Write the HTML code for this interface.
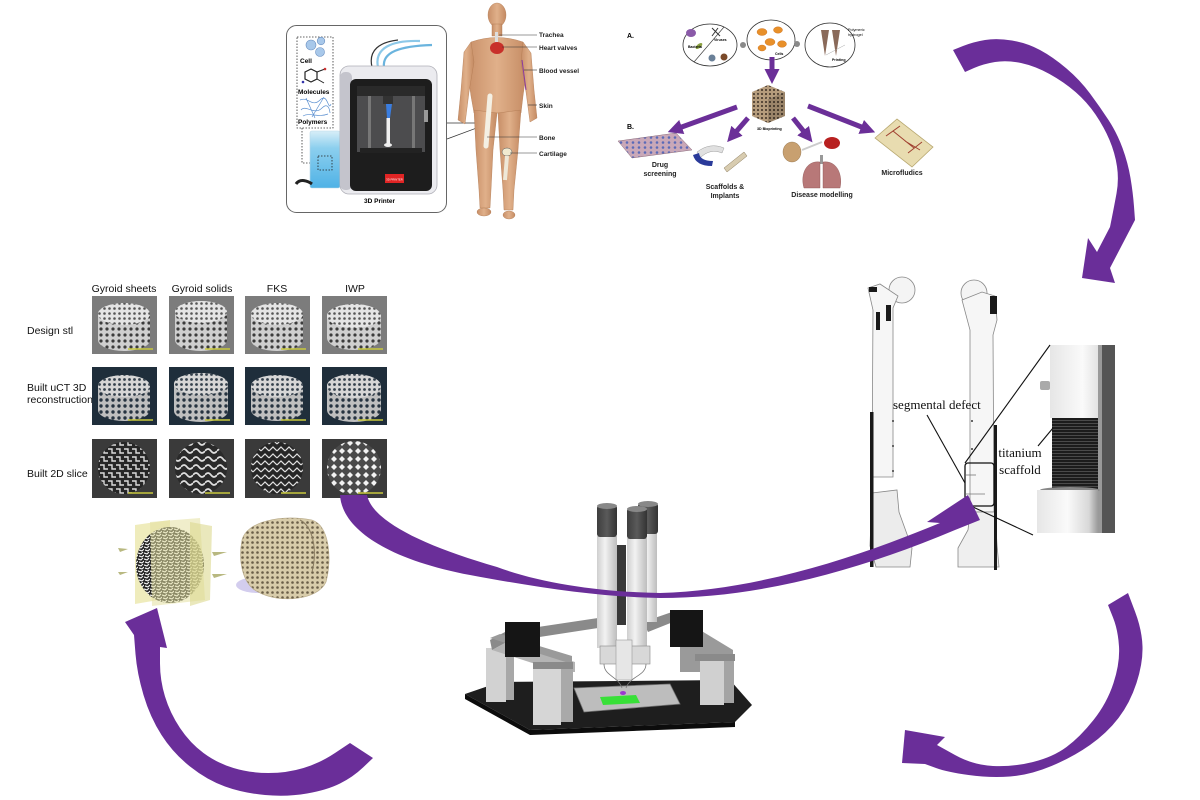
<!DOCTYPE html>
<html><head><meta charset="utf-8"><style>
html,body{margin:0;padding:0;background:#fff;}
svg{display:block;}
.t{font-family:"Liberation Sans",Arial,sans-serif;}
.s{font-family:"Liberation Serif","Times New Roman",serif;}
</style></head><body>
<svg width="1200" height="800" viewBox="0 0 1200 800" xmlns="http://www.w3.org/2000/svg">
<defs>
<pattern id="l1" width="6" height="6" patternUnits="userSpaceOnUse"><rect width="6" height="6" fill="#cfcfcf"/><circle cx="3" cy="3" r="1.6" fill="#3c3c3c"/></pattern>
<pattern id="l1t" width="5" height="5" patternUnits="userSpaceOnUse"><rect width="5" height="5" fill="#e4e4e4"/><circle cx="2.5" cy="2.5" r="1.3" fill="#555"/></pattern>
<pattern id="l2" width="6" height="6" patternUnits="userSpaceOnUse"><rect width="6" height="6" fill="#bfbfbf"/><circle cx="3" cy="3" r="1.7" fill="#263340"/></pattern>
<pattern id="l2t" width="5" height="5" patternUnits="userSpaceOnUse"><rect width="5" height="5" fill="#d6d6d6"/><circle cx="2.5" cy="2.5" r="1.4" fill="#34404c"/></pattern>
<pattern id="herr" width="8" height="8" patternUnits="userSpaceOnUse"><rect width="8" height="8" fill="#262626"/><path d="M0,2 L4,2 L4,6 L8,6" stroke="#dcdcdc" stroke-width="1.4" fill="none"/></pattern>
<pattern id="wave" width="12" height="8" patternUnits="userSpaceOnUse"><rect width="12" height="8" fill="#2a2a2a"/><path d="M0,4 Q3,0 6,4 T12,4" stroke="#dedede" stroke-width="1.8" fill="none"/></pattern>
<pattern id="zig" width="8" height="7" patternUnits="userSpaceOnUse"><rect width="8" height="7" fill="#262626"/><path d="M0,5 L4,1 L8,5" stroke="#e0e0e0" stroke-width="1.2" fill="none"/></pattern>
<pattern id="diam" width="8" height="8" patternUnits="userSpaceOnUse"><rect width="8" height="8" fill="#4a4a4a"/><polygon points="4,1 7,4 4,7 1,4" fill="#f2f2f2"/></pattern>
<pattern id="cube" width="4" height="4" patternUnits="userSpaceOnUse"><rect width="4" height="4" fill="#b59c7c"/><rect x="1" y="1" width="2" height="2" fill="#5a4a3a"/></pattern>
<pattern id="por" width="5" height="5" patternUnits="userSpaceOnUse"><rect width="5" height="5" fill="#d8ccaa"/><circle cx="2.5" cy="2.5" r="1.3" fill="#6a5e48"/></pattern>
<pattern id="noise" width="6" height="6" patternUnits="userSpaceOnUse"><rect width="6" height="6" fill="#222"/><path d="M0,1 L3,2 L5,0 M1,4 L4,5 L6,3" stroke="#f0f0f0" stroke-width="1.2" fill="none"/></pattern>
<pattern id="scf" width="3" height="3" patternUnits="userSpaceOnUse"><rect width="3" height="3" fill="#1c1c1c"/><rect width="3" height="1" fill="#4a4a4a"/></pattern>
<pattern id="plate" width="6" height="5" patternUnits="userSpaceOnUse"><rect width="6" height="5" fill="#c9a8b8"/><circle cx="3" cy="2.5" r="1.3" fill="#5a6ab8"/></pattern>
<marker id="ah" viewBox="0 0 10 10" refX="2" refY="5" markerWidth="3" markerHeight="3" orient="auto" markerUnits="strokeWidth"><path d="M0,0 L10,5 L0,10 z" fill="#6b2f98"/></marker>
<linearGradient id="tube" x1="0" x2="1"><stop offset="0" stop-color="#cfcfcf"/><stop offset="0.4" stop-color="#f2f2f2"/><stop offset="1" stop-color="#bdbdbd"/></linearGradient>
<linearGradient id="cap" x1="0" x2="1"><stop offset="0" stop-color="#3e3e3e"/><stop offset="0.5" stop-color="#5a5a5a"/><stop offset="1" stop-color="#333"/></linearGradient>
<linearGradient id="beak" x1="0" y1="0" x2="0" y2="1"><stop offset="0" stop-color="#d8eef8"/><stop offset="0.3" stop-color="#8ccfee"/><stop offset="1" stop-color="#4fb2e6"/></linearGradient>
<linearGradient id="skin" x1="0" x2="1"><stop offset="0" stop-color="#c88f68"/><stop offset="0.5" stop-color="#e0b08a"/><stop offset="1" stop-color="#c48a62"/></linearGradient>
<linearGradient id="zp" x1="0" x2="1"><stop offset="0" stop-color="#e6e6e6"/><stop offset="0.5" stop-color="#fafafa"/><stop offset="0.85" stop-color="#d8d8d8"/><stop offset="1" stop-color="#9a9a9a"/></linearGradient>
</defs>

<!-- ============ TOP LEFT: printer panel + human ============ -->
<rect x="286.5" y="25.5" width="160" height="187" rx="10" fill="#fff" stroke="#666" stroke-width="1"/>
<rect x="297" y="37" width="36" height="91" fill="none" stroke="#333" stroke-width="0.8" stroke-dasharray="1.5,1.5"/>
<circle cx="311" cy="45" r="5" fill="#a8c8ea" stroke="#6a8fc0" stroke-width="0.6"/>
<circle cx="321" cy="41" r="3.8" fill="#a8c8ea" stroke="#6a8fc0" stroke-width="0.6"/>
<circle cx="320" cy="52" r="4.5" fill="#a8c8ea" stroke="#6a8fc0" stroke-width="0.6"/>
<text x="300" y="63" class="t" font-size="6.5" font-weight="bold">Cell</text>
<polygon points="305,72 311,69 317,72 317,79 311,82 305,79" fill="none" stroke="#222" stroke-width="1.2"/>
<line x1="317" y1="72" x2="325" y2="69" stroke="#222" stroke-width="1"/><circle cx="325" cy="69" r="1.3" fill="#c33"/>
<line x1="317" y1="79" x2="324" y2="83" stroke="#222" stroke-width="1"/><circle cx="303" cy="82" r="1.3" fill="#33a"/>
<text x="298" y="94" class="t" font-size="6.5" font-weight="bold">Molecules</text>
<path d="M300,100 C308,96 312,108 320,100 S328,112 331,104 M301,110 C306,104 314,116 322,108 S330,116 330,112 M303,116 C310,112 318,118 328,114 M306,98 L315,118 M324,97 L312,117" stroke="#5a8fd0" stroke-width="0.7" fill="none"/>
<text x="298" y="124" class="t" font-size="6.5" font-weight="bold">Polymers</text>
<polyline points="302,128 302,163 318,163" fill="none" stroke="#333" stroke-width="0.8" stroke-dasharray="1.5,1.5"/>
<rect x="310" y="131" width="30" height="57" rx="2" fill="url(#beak)" stroke="#b8d8e8" stroke-width="0.6"/>
<rect x="318" y="156" width="14" height="14" fill="none" stroke="#222" stroke-width="0.8" stroke-dasharray="1.5,1.5"/>
<path d="M296,184 C300,178 308,181 312,184" stroke="#222" stroke-width="3" fill="none"/>
<!-- printer -->
<path d="M378,67 C374,48 392,40 420,41" stroke="#8cc8e8" stroke-width="2.2" fill="none"/>
<path d="M384,67 C382,52 400,46 432,45" stroke="#6ab4de" stroke-width="2.2" fill="none"/>
<path d="M372,67 C368,50 380,42 398,40" stroke="#333" stroke-width="1.2" fill="none"/>
<rect x="340" y="66" width="97" height="128" rx="9" fill="#ebebef" stroke="#b0b0b8" stroke-width="0.8"/>
<rect x="340" y="72" width="12" height="118" rx="5" fill="#c4c4cc"/>
<rect x="350" y="79" width="82" height="112" rx="6" fill="#1d1d1d"/>
<rect x="357" y="86" width="68" height="66" fill="#4c4c4e"/>
<rect x="357" y="86" width="68" height="10" fill="#2a2a2a"/>
<rect x="368" y="96" width="3" height="52" fill="#777"/>
<rect x="412" y="96" width="3" height="52" fill="#777"/>
<rect x="383" y="96" width="10" height="8" fill="#333"/>
<path d="M386,104 L392,104 L390,118 L387,118 Z" fill="#3a7de0"/>
<rect x="386.5" y="118" width="3.5" height="26" fill="#f0f0f0"/>
<ellipse cx="388" cy="145" rx="4" ry="2" fill="#eee"/>
<rect x="360" y="148" width="62" height="5" fill="#222"/>
<rect x="424" y="110" width="4" height="12" fill="#999"/>
<rect x="385" y="174" width="19" height="9" fill="#e02424"/>
<text x="394.5" y="180.5" class="t" font-size="2.8" fill="#fff" text-anchor="middle">3D PRINTER</text>
<text x="364" y="203" class="t" font-size="6.5" font-weight="bold">3D Printer</text>
<line x1="447" y1="123" x2="482" y2="123" stroke="#333" stroke-width="0.7"/>
<line x1="447" y1="139" x2="482" y2="126" stroke="#333" stroke-width="0.7"/>
<!-- human -->
<g fill="url(#skin)" stroke="#b07850" stroke-width="0.4">
<ellipse cx="497" cy="15" rx="9" ry="12"/>
<rect x="492" y="24" width="10" height="12"/>
<path d="M471,42 Q497,33 523,42 L528,60 L523,96 L521,113 L474,113 L471,96 L466,60 Z"/>
<path d="M471,42 L464,52 L461,90 L458,120 L465,124 L469,92 L474,62 Z"/>
<path d="M523,42 L531,53 L534,90 L537,118 L530,122 L526,92 L521,62 Z"/>
<path d="M474,110 L497,113 L493,150 L491,190 L490,208 L480,208 L479,190 L476,150 Z"/>
<path d="M498,113 L521,110 L518,150 L514,190 L513,210 L504,210 L503,190 L500,150 Z"/>
<ellipse cx="484" cy="212" rx="7" ry="4"/>
<ellipse cx="509" cy="215" rx="6" ry="4"/>
</g>
<path d="M490,96 L486,146" stroke="#f4f0e4" stroke-width="5" stroke-linecap="round"/>
<ellipse cx="507" cy="152" rx="5" ry="4" fill="#f1ead0" stroke="#555" stroke-width="0.5"/>
<path d="M507,156 L505,180" stroke="#eee8d8" stroke-width="4"/>
<rect x="495" y="32" width="3" height="10" fill="#ddd"/>
<ellipse cx="497" cy="48" rx="7" ry="6" fill="#c8302a"/>
<path d="M522,60 L526,90" stroke="#8a3aa0" stroke-width="1"/>
<g stroke="#333" stroke-width="0.6">
<line x1="499" y1="35" x2="537" y2="35"/><line x1="502" y1="47" x2="537" y2="47"/>
<line x1="524" y1="70" x2="537" y2="70"/><line x1="528" y1="105" x2="537" y2="105"/>
<line x1="487" y1="137" x2="537" y2="137"/><line x1="510" y1="153" x2="537" y2="153"/>
</g>
<g class="t" font-size="6.5" font-weight="bold" fill="#222">
<text x="539" y="37">Trachea</text><text x="539" y="50">Heart valves</text>
<text x="539" y="73">Blood vessel</text><text x="539" y="108">Skin</text>
<text x="539" y="140">Bone</text><text x="539" y="156">Cartilage</text>
</g>

<!-- ============ TOP MIDDLE: bioprinting panel ============ -->
<text x="627" y="38" class="t" font-size="7" font-weight="bold">A.</text>
<text x="627" y="129" class="t" font-size="7" font-weight="bold">B.</text>
<ellipse cx="710" cy="45" rx="27" ry="21" fill="#fff" stroke="#333" stroke-width="0.8"/>
<line x1="694" y1="62" x2="724" y2="27" stroke="#333" stroke-width="0.6"/>
<ellipse cx="691" cy="33" rx="5" ry="4" fill="#8a5aa8"/>
<ellipse cx="699" cy="46" rx="4" ry="2" fill="#8aa040" transform="rotate(-40 699 46)"/>
<circle cx="712" cy="58" r="3.5" fill="#6a8098"/><circle cx="724" cy="57" r="3.5" fill="#7a4a2a"/>
<path d="M712,28 L720,36 M718,28 L712,36" stroke="#333" stroke-width="1"/>
<text x="688" y="48" class="t" font-size="3.5" font-weight="bold">Bacteria</text>
<text x="714" y="41" class="t" font-size="3.5" font-weight="bold">Viruses</text>
<circle cx="743" cy="45" r="3" fill="#8a8a8a"/>
<ellipse cx="771" cy="40" rx="24" ry="20" fill="#fff" stroke="#333" stroke-width="0.8"/>
<g fill="#e8902a" stroke="#c86a18" stroke-width="0.4">
<ellipse cx="762" cy="32" rx="5" ry="3.5"/><ellipse cx="778" cy="30" rx="4.5" ry="3.2"/>
<ellipse cx="770" cy="42" rx="5" ry="3.5"/><ellipse cx="782" cy="44" rx="4.5" ry="3.3"/><ellipse cx="762" cy="48" rx="4" ry="3"/>
</g>
<text x="775" y="55" class="t" font-size="3.5" font-weight="bold">Cells</text>
<circle cx="797" cy="44" r="3" fill="#8a8a8a"/>
<ellipse cx="830" cy="45" rx="25" ry="22" fill="#fff" stroke="#333" stroke-width="0.8"/>
<polygon points="821,30 829,30 825,56" fill="#8a6a5a"/>
<polygon points="832,30 840,30 836,56" fill="#8a6a5a"/>
<line x1="826" y1="55" x2="845" y2="45" stroke="#aaa" stroke-width="0.5"/>
<text x="848" y="31" class="t" font-size="3.8">Polymeric</text>
<text x="848" y="36" class="t" font-size="3.8">hydrogel</text>
<text x="832" y="61" class="t" font-size="3.6" font-weight="bold">Printing</text>
<line x1="772" y1="57" x2="772" y2="72" stroke="#6b2f98" stroke-width="5" marker-end="url(#ah)"/>
<polygon points="752,92 768,85 785,92 768,99" fill="url(#cube)"/>
<polygon points="752,92 768,99 768,123 752,116" fill="url(#cube)"/>
<polygon points="768,99 785,92 785,116 768,123" fill="url(#cube)"/>
<polygon points="768,99 785,92 785,116 768,123" fill="#000" opacity="0.15"/>
<text x="757" y="130" class="t" font-size="3.6" font-weight="bold">3D Bioprinting</text>
<g stroke="#6b2f98" stroke-width="5" marker-end="url(#ah)">
<line x1="737" y1="107" x2="679" y2="128"/>
<line x1="748" y1="118" x2="735" y2="133"/>
<line x1="793" y1="118" x2="805" y2="133"/>
<line x1="808" y1="106" x2="864" y2="128"/>
</g>
<polygon points="618,141 676,133 692,150 632,158" fill="url(#plate)" stroke="#8a6a7a" stroke-width="0.5"/>
<g class="t" font-size="7" font-weight="bold" fill="#222" text-anchor="middle">
<text x="660" y="167">Drug</text><text x="660" y="176">screening</text>
<text x="725" y="189">Scaffolds &amp;</text><text x="725" y="198">Implants</text>
<text x="822" y="197">Disease modelling</text>
<text x="902" y="175">Microfludics</text>
</g>
<path d="M697,152 Q710,142 724,148 L722,153 Q710,148 700,158 Z" fill="#e0e0e0" stroke="#888" stroke-width="0.4"/>
<path d="M693,155 Q696,166 712,166 L713,161 Q700,161 699,153 Z" fill="#2a3a9a"/>
<polygon points="724,168 744,152 747,156 727,172" fill="#d8ccb0" stroke="#8a7a5a" stroke-width="0.5"/>
<ellipse cx="792" cy="152" rx="9" ry="10" fill="#c8a070" stroke="#8a6a40" stroke-width="0.4"/>
<path d="M802,150 L822,142" stroke="#ccc" stroke-width="2"/>
<ellipse cx="832" cy="143" rx="8" ry="6" fill="#b82020"/>
<rect x="820" y="155" width="3" height="9" fill="#999"/>
<path d="M820,162 C806,160 800,175 804,188 L820,188 Z" fill="#b87878" stroke="#8a5050" stroke-width="0.4"/>
<path d="M823,162 C837,160 843,175 840,188 L823,188 Z" fill="#b87878" stroke="#8a5050" stroke-width="0.4"/>
<polygon points="875,138 897,119 933,147 912,167" fill="#e8dcb0" stroke="#b8a870" stroke-width="0.8"/>
<path d="M886,136 L900,126 M893,131 L914,148 M905,141 L920,150 M908,153 L922,142" stroke="#a04030" stroke-width="1"/>

<!-- ============ GRID of scaffolds ============ -->
<g class="t" font-size="10.5" fill="#111" text-anchor="middle">
<text x="124" y="292">Gyroid sheets</text><text x="202" y="292">Gyroid solids</text>
<text x="277" y="292">FKS</text><text x="355" y="292">IWP</text>
</g>
<g class="t" font-size="10.5" fill="#111">
<text x="27" y="334">Design stl</text>
<text x="27" y="391">Built uCT 3D</text><text x="27" y="403">reconstruction</text>
<text x="27" y="477">Built 2D slice</text>
</g>
<g transform="translate(92,296)"><rect width="65" height="58" fill="#7c7c7c"/><path d="M6,18 A26,11 0 0 1 58,18 L58,44 A26,11 0 0 1 6,44 Z" fill="url(#l1)"/><ellipse cx="32" cy="18" rx="26" ry="11" fill="url(#l1t)"/><line x1="36" y1="53" x2="61" y2="53" stroke="#c8c83c" stroke-width="1.5"/></g>
<g transform="translate(169,296)"><rect width="65" height="58" fill="#7c7c7c"/><path d="M6,16 A26,11 0 0 1 58,16 L58,44 A26,11 0 0 1 6,44 Z" fill="url(#l1)"/><ellipse cx="32" cy="16" rx="26" ry="11" fill="url(#l1t)"/><line x1="36" y1="53" x2="61" y2="53" stroke="#c8c83c" stroke-width="1.5"/></g>
<g transform="translate(245,296)"><rect width="65" height="58" fill="#7c7c7c"/><path d="M6,18 A26,11 0 0 1 58,18 L58,44 A26,11 0 0 1 6,44 Z" fill="url(#l1)"/><ellipse cx="32" cy="18" rx="26" ry="11" fill="url(#l1t)"/><line x1="36" y1="53" x2="61" y2="53" stroke="#c8c83c" stroke-width="1.5"/></g>
<g transform="translate(322,296)"><rect width="65" height="58" fill="#7c7c7c"/><path d="M5,20 A27,12 0 0 1 59,20 L59,42 A27,12 0 0 1 5,42 Z" fill="url(#l1)"/><ellipse cx="32" cy="20" rx="27" ry="12" fill="url(#l1t)"/><line x1="36" y1="53" x2="61" y2="53" stroke="#c8c83c" stroke-width="1.5"/></g>
<g transform="translate(92,367)"><rect width="65" height="58" fill="#1f2e3b"/><path d="M6,19 A26,11 0 0 1 58,19 L58,43 A26,11 0 0 1 6,43 Z" fill="url(#l2)"/><ellipse cx="32" cy="19" rx="26" ry="11" fill="url(#l2t)"/><line x1="36" y1="53" x2="61" y2="53" stroke="#c8c83c" stroke-width="1.5"/></g>
<g transform="translate(169,367)"><rect width="65" height="58" fill="#1f2e3b"/><path d="M5,17 A27,11 0 0 1 59,17 L59,44 A27,11 0 0 1 5,44 Z" fill="url(#l2)"/><ellipse cx="32" cy="17" rx="27" ry="11" fill="url(#l2t)"/><line x1="36" y1="53" x2="61" y2="53" stroke="#c8c83c" stroke-width="1.5"/></g>
<g transform="translate(245,367)"><rect width="65" height="58" fill="#1f2e3b"/><path d="M6,19 A26,11 0 0 1 58,19 L58,43 A26,11 0 0 1 6,43 Z" fill="url(#l2)"/><ellipse cx="32" cy="19" rx="26" ry="11" fill="url(#l2t)"/><line x1="36" y1="53" x2="61" y2="53" stroke="#c8c83c" stroke-width="1.5"/></g>
<g transform="translate(322,367)"><rect width="65" height="58" fill="#1f2e3b"/><path d="M5,19 A27,12 0 0 1 59,19 L59,43 A27,12 0 0 1 5,43 Z" fill="url(#l2)"/><ellipse cx="32" cy="19" rx="27" ry="12" fill="url(#l2t)"/><line x1="36" y1="53" x2="61" y2="53" stroke="#c8c83c" stroke-width="1.5"/></g>
<g transform="translate(92,439)"><rect width="65" height="59" fill="#3a3a3a"/><circle cx="32" cy="29" r="26" fill="url(#herr)"/><line x1="36" y1="54" x2="61" y2="54" stroke="#c8c83c" stroke-width="1.5"/></g>
<g transform="translate(169,439)"><rect width="65" height="59" fill="#3a3a3a"/><circle cx="32" cy="29" r="26" fill="url(#wave)"/><line x1="36" y1="54" x2="61" y2="54" stroke="#c8c83c" stroke-width="1.5"/></g>
<g transform="translate(245,439)"><rect width="65" height="59" fill="#3a3a3a"/><circle cx="32" cy="29" r="26" fill="url(#zig)"/><line x1="36" y1="54" x2="61" y2="54" stroke="#c8c83c" stroke-width="1.5"/></g>
<g transform="translate(322,439)"><rect width="65" height="59" fill="#3a3a3a"/><circle cx="32" cy="29" r="27" fill="url(#diam)"/><line x1="36" y1="54" x2="61" y2="54" stroke="#c8c83c" stroke-width="1.5"/></g>

<!-- scaffold pictures below grid -->
<polygon points="135,525 170,520 170,598 135,604" fill="#e8e4a0" opacity="0.7"/>
<ellipse cx="170" cy="565" rx="34" ry="38" fill="url(#noise)"/>
<polygon points="150,522 200,518 205,600 152,606" fill="#e4e0a0" opacity="0.55"/>
<polygon points="190,522 212,526 210,600 190,606" fill="#dcd890" opacity="0.6"/>
<polygon points="118,548 128,549 120,552" fill="#b8b880"/><polygon points="212,552 227,552 214,556" fill="#b8b880"/>
<polygon points="118,572 128,572 120,575" fill="#b8b880"/><polygon points="212,574 227,574 214,578" fill="#b8b880"/>
<ellipse cx="258" cy="585" rx="22" ry="8" fill="#c8c0ea" opacity="0.8"/>
<path d="M242,540 C246,522 280,514 312,520 C330,526 332,560 326,582 C318,600 280,604 258,592 C242,584 238,560 242,540 Z" fill="url(#por)" stroke="#b8aa88" stroke-width="0.6"/>
<path d="M300,520 C312,526 318,548 312,572" stroke="#8a7c60" stroke-width="1" fill="none"/>

<!-- ============ RIGHT: femurs ============ -->
<g stroke="#888" stroke-width="0.8">
<circle cx="902" cy="290" r="13" fill="#f4f4f4"/>
<path d="M868,288 L880,284 L898,296 L893,308 L893,477 L872,477 L873,310 Z" fill="#f6f6f6"/>
<path d="M872,493 L897,490 L899,512 L912,548 L910,567 L876,567 L870,546 Z" fill="#ececec"/>
<circle cx="974" cy="293" r="13" fill="#f4f4f4"/>
<path d="M962,300 L982,292 L995,296 L997,320 L993,335 L994,512 L970,512 L970,330 Z" fill="#f6f6f6"/>
<path d="M970,512 L995,512 L997,545 L999,567 L958,567 L958,548 L968,530 Z" fill="#efefef"/>
</g>
<g fill="#1a1a1a">
<rect x="870" y="412" width="3.5" height="155"/>
<rect x="869" y="287" width="8" height="5"/><rect x="876" y="312" width="4" height="18"/><rect x="886" y="305" width="5" height="16"/>
<rect x="994" y="425" width="3" height="145"/>
<rect x="990" y="296" width="7" height="18"/>
</g>
<g fill="#666"><rect x="892" y="420" width="2" height="2"/><rect x="892" y="445" width="2" height="2"/><rect x="892" y="470" width="2" height="2"/><rect x="971" y="420" width="2" height="2"/><rect x="971" y="448" width="2" height="2"/></g>
<rect x="965" y="463" width="29" height="43" rx="3" fill="none" stroke="#111" stroke-width="1.3"/>
<line x1="966" y1="475" x2="976" y2="475" stroke="#777" stroke-width="0.8"/><line x1="966" y1="494" x2="985" y2="494" stroke="#777" stroke-width="0.8"/>
<rect x="1050" y="345" width="65" height="73" fill="url(#zp)"/>
<rect x="1040" y="381" width="10" height="9" rx="2" fill="#aaa"/>
<rect x="1052" y="418" width="46" height="72" fill="url(#scf)"/>
<rect x="1098" y="418" width="17" height="72" fill="#ddd"/>
<rect x="1102" y="345" width="13" height="188" fill="#555"/>
<rect x="1098" y="345" width="4" height="188" fill="#9a9a9a"/>
<ellipse cx="1070" cy="490" rx="30" ry="3" fill="#888"/>
<rect x="1037" y="490" width="61" height="43" fill="url(#zp)"/>
<g stroke="#111" stroke-width="1.1">
<line x1="965" y1="463" x2="1050" y2="345"/>
<line x1="973" y1="507" x2="1033" y2="535"/>
<line x1="927" y1="415" x2="965" y2="483"/>
<line x1="1038" y1="446" x2="1053" y2="428"/>
</g>
<text x="893" y="409" class="s" font-size="13" fill="#111">segmental defect</text>
<text x="1020" y="457" class="s" font-size="13" fill="#111" text-anchor="middle">titanium</text>
<text x="1020" y="474" class="s" font-size="13" fill="#111" text-anchor="middle">scaffold</text>

<!-- ============ BIOPRINTER ============ -->
<polygon points="465,694 500,682 730,680 752,705 735,722 530,730" fill="#1e1e1e"/>
<polygon points="465,694 530,730 735,722 735,727 530,735 465,699" fill="#0c0c0c"/>
<rect x="680" y="622" width="20" height="50" fill="#9a9a9a"/>
<rect x="486" y="648" width="20" height="54" fill="#d2d2d2"/><rect x="506" y="645" width="8" height="55" fill="#a8a8a8"/>
<polygon points="490,640 505,632 598,618 598,628 507,642 492,650" fill="#8a8a8a"/>
<polygon points="492,650 507,642 575,662 575,672 560,672" fill="#b4b4b4"/>
<polygon points="490,638 500,634 572,656 572,664" fill="#9a9a9a"/>
<polygon points="643,622 672,612 678,620 648,632" fill="#8a8a8a"/>
<polygon points="685,636 700,630 733,650 733,662 718,664 685,646" fill="#9a9a9a"/>
<rect x="505" y="622" width="35" height="35" fill="#151515"/>
<rect x="670" y="610" width="33" height="37" fill="#151515"/>
<rect x="533" y="668" width="28" height="57" fill="#d6d6d6"/><rect x="561" y="665" width="12" height="57" fill="#a9a9a9"/>
<rect x="700" y="660" width="24" height="45" fill="#d0d0d0"/><rect x="724" y="658" width="10" height="45" fill="#a4a4a4"/>
<rect x="533" y="662" width="40" height="7" fill="#8a8a8a"/>
<rect x="695" y="654" width="40" height="7" fill="#8a8a8a"/>
<polygon points="574,688 670,684 680,704 584,712" fill="#bdbdbd" stroke="#777" stroke-width="0.8"/>
<polygon points="600,697 636,695 640,703 603,705" fill="#38e038"/>
<ellipse cx="623" cy="693" rx="3" ry="2" fill="#9a3ad0"/>
<rect x="640" y="532" width="17" height="90" fill="url(#tube)"/>
<rect x="638" y="503" width="20" height="31" rx="3" fill="url(#cap)"/>
<ellipse cx="648" cy="504" rx="10" ry="3" fill="#888"/>
<rect x="612" y="545" width="14" height="80" fill="#383838"/>
<rect x="597" y="536" width="20" height="112" fill="url(#tube)"/>
<rect x="597" y="505" width="20" height="32" rx="3" fill="url(#cap)"/>
<ellipse cx="607" cy="506" rx="10" ry="3" fill="#888"/>
<rect x="627" y="538" width="20" height="112" fill="url(#tube)"/>
<rect x="627" y="508" width="20" height="31" rx="3" fill="url(#cap)"/>
<ellipse cx="637" cy="509" rx="10" ry="3" fill="#888"/>
<rect x="600" y="646" width="50" height="18" fill="#d8d8d8" stroke="#888" stroke-width="0.6"/>
<rect x="616" y="640" width="16" height="40" fill="#e6e6e6" stroke="#999" stroke-width="0.6"/>
<path d="M604,664 C604,676 618,676 622,688 M646,664 C646,676 630,676 626,688" stroke="#777" stroke-width="0.8" fill="none"/>

<!-- ============ PURPLE ARROWS ============ -->
<g fill="#6a2e99">
<!-- top right -->
<path d="M953,50 L963,46 Q973,42 985,40 Q997,38 1012,40.5 Q1027,43 1040,50 Q1053,57 1066.5,68.5 Q1080,80 1090,93.5 Q1100,107 1108.5,120 Q1117,133 1122.5,148 Q1128,163 1130.5,178 Q1133,193 1134,206.5 L1135,220 L1110,268 L1115,283 L1082,278 L1088,238 L1097,252 L1110,227 L1112,217 Q1114,207 1116.5,193.5 Q1119,180 1117,166.5 Q1115,153 1109.5,140 Q1104,127 1095.5,114.5 Q1087,102 1075.5,92 Q1064,82 1049.5,74 Q1035,66 1021,63 Q1007,60 995,62 Q983,64 974,68 L965,72 Z"/>
<!-- bottom right -->
<path d="M1128,593 L1135,611.5 Q1142,630 1142.5,646.5 Q1143,663 1136.5,683 Q1130,703 1118.5,718 Q1107,733 1090,745 Q1073,757 1051.5,766 Q1030,775 1010,776.5 Q990,778 968.5,775 Q947,772 936,768 L925,764 L902,763 L905,730 L945,737 L937,745 L955,755 Q973,765 993,766 Q1013,767 1033,762 Q1053,757 1066.5,747 Q1080,737 1093.5,720 Q1107,703 1113.5,683 Q1120,663 1119,646.5 Q1118,630 1113,617.5 L1108,605 Z"/>
<!-- bottom left -->
<path d="M373,758 L363,767.5 Q353,777 340,783.5 Q327,790 307,793.5 Q287,797 265,795 Q243,793 225,786.5 Q207,780 190,766.5 Q173,753 161.5,735 Q150,717 143.5,695 Q137,673 135.5,654 L134,635 L125,622 L157,608 L167,648 L160,647 L160,663.5 Q160,680 165,696.5 Q170,713 180,728 Q190,743 203.5,753 Q217,763 233.5,768 Q250,773 268.5,773 Q287,773 303.5,768 Q320,763 335,753 L350,743 Z"/>
<!-- middle -->
<path d="M340,495 C342,530 390,560 470,575 C540,588 600,597 660,598 C760,598 860,570 955,530 L980,520 L968,495 L927,522 L940,523 C860,556 760,590 660,593 C600,592 540,583 497,567 C420,545 372,520 367,495 Z"/>
</g>
</svg>
</body></html>
